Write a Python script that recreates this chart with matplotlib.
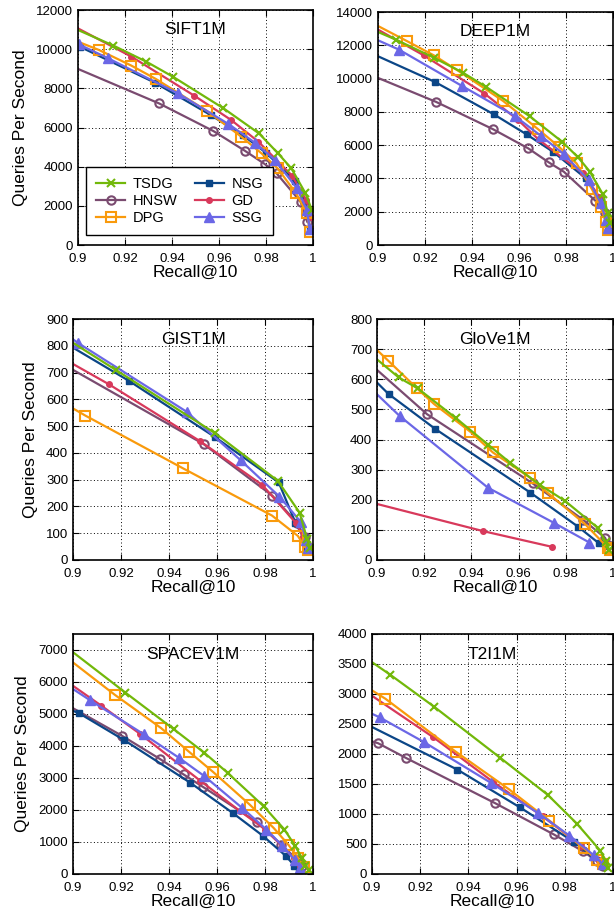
import matplotlib
matplotlib.use('Agg')
import matplotlib.pyplot as plt

plt.rcParams['font.family'] = ['Liberation Sans', 'DejaVu Sans']

METHODS = ['TSDG', 'HNSW', 'DPG', 'NSG', 'GD', 'SSG']

# (recall, qps) per method, first point sits on the left edge (no marker)
SIFT_TSDG = ([0.9, 0.9151, 0.9291, 0.9403, 0.9619, 0.9770, 0.9849, 0.9908, 0.9968, 0.9995],
             [10980, 10180, 9360, 8600, 6980, 5700, 4710, 3910, 2640, 1790])
SIFT_HNSW = ([0.9, 0.9345, 0.9576, 0.9709, 0.9794, 0.9845, 0.9947, 0.9975],
             [8990, 7230, 5820, 4820, 4140, 3660, 2210, 1200])
SIFT_DPG = ([0.9, 0.9089, 0.9227, 0.9331, 0.9547, 0.9695, 0.9781, 0.9849, 0.9928, 0.9974, 0.9988],
            [10380, 9960, 9160, 8480, 6860, 5530, 4680, 3920, 2640, 1620, 680])
SIFT_NSG = ([0.9, 0.9007, 0.9327, 0.9564, 0.9700, 0.9799, 0.9925, 0.9968, 0.9986],
            [10080, 10130, 8290, 6640, 5620, 4720, 3270, 2210, 800])
SIFT_GD = ([0.9, 0.9227, 0.9494, 0.9652, 0.9767, 0.9911, 0.9971, 0.9993],
           [11060, 9620, 7630, 6380, 5280, 3540, 2300, 1450])
SIFT_SSG = ([0.9, 0.9003, 0.9129, 0.9424, 0.9640, 0.9752, 0.9838, 0.9932, 0.9974, 0.9986],
            [10260, 10250, 9530, 7750, 6180, 5230, 4340, 2890, 1790, 800])

DEEP_TSDG = ([0.9, 0.9076, 0.9237, 0.9363, 0.9460, 0.9645, 0.9784, 0.9852, 0.9902, 0.9957, 0.9978, 0.9987],
             [12800, 12340, 11260, 10340, 9500, 7740, 6200, 5260, 4400, 3040, 1900, 1340])
DEEP_HNSW = ([0.9, 0.9247, 0.9489, 0.9640, 0.9727, 0.9791, 0.9925, 0.9964, 0.9978, 0.9983],
             [10040, 8600, 6960, 5800, 4960, 4400, 2660, 1900, 1400, 900])
DEEP_DPG = ([0.9, 0.9122, 0.9237, 0.9338, 0.9532, 0.9681, 0.9770, 0.9845, 0.9911, 0.9947, 0.9971, 0.9978],
            [13160, 12260, 11400, 10500, 8660, 6960, 5900, 4900, 3340, 2300, 1400, 900])
DEEP_NSG = ([0.9, 0.9242, 0.9492, 0.9633, 0.9745, 0.9885, 0.9947, 0.9974, 0.9981],
            [11340, 9800, 7860, 6640, 5600, 4000, 2700, 1700, 1000])
DEEP_GD = ([0.9, 0.9194, 0.9453, 0.9597, 0.9683, 0.9873, 0.9942, 0.9964],
           [12940, 11400, 9100, 7500, 6340, 4300, 2900, 1900])
DEEP_SSG = ([0.9, 0.9089, 0.9357, 0.9583, 0.9695, 0.9791, 0.9896, 0.9947, 0.9971, 0.9978],
            [12300, 11740, 9560, 7740, 6540, 5460, 3900, 2540, 1500, 1000])

GIST_TSDG = ([0.9, 0.9178, 0.9593, 0.9853, 0.9944, 0.9976, 0.9986],
             [811, 710, 473, 296, 177, 77, 44])
GIST_HNSW = ([0.9, 0.9544, 0.9831, 0.9933, 0.9965, 0.9979],
             [710, 433, 240, 139, 85, 50])
GIST_DPG = ([0.9, 0.9052, 0.9459, 0.9829, 0.9937, 0.9965, 0.9979],
            [566, 539, 342, 166, 90, 50, 37])
GIST_NSG = ([0.9, 0.9235, 0.9590, 0.9857, 0.9927, 0.9962, 0.9976],
            [793, 668, 460, 290, 139, 81, 44])
GIST_GD = ([0.9, 0.9150, 0.9529, 0.9789, 0.9930, 0.9958, 0.9975],
           [732, 656, 444, 280, 137, 87, 56])
GIST_SSG = ([0.9, 0.9020, 0.9473, 0.9698, 0.9860, 0.9948, 0.9972, 0.9979],
            [824, 811, 554, 373, 237, 143, 75, 44])

GLOVE_TSDG = ([0.9, 0.9092, 0.9172, 0.9336, 0.9472, 0.9564, 0.9691, 0.9797, 0.9935, 0.9970, 0.9984],
              [666, 606, 570, 470, 382, 323, 249, 196, 107, 59, 33])
GLOVE_HNSW = ([0.9, 0.9212, 0.9660, 0.9874, 0.9966, 0.9980],
              [631, 484, 254, 133, 74, 50])
GLOVE_DPG = ([0.9, 0.9047, 0.9169, 0.9243, 0.9395, 0.9491, 0.9649, 0.9726, 0.9882, 0.9980, 0.9987],
             [697, 662, 570, 517, 426, 357, 273, 221, 119, 39, 33])
GLOVE_NSG = ([0.9, 0.9049, 0.9247, 0.9649, 0.9853, 0.9941],
             [589, 551, 435, 224, 110, 55])
GLOVE_GD = ([0.9, 0.9449, 0.9740],
            [186, 96, 44])
GLOVE_SSG = ([0.9, 0.9096, 0.9470, 0.9748, 0.9900],
             [550, 478, 240, 124, 58])

SPACEV_TSDG = ([0.9, 0.9218, 0.9419, 0.9547, 0.9646, 0.9794, 0.9881, 0.9926, 0.9954, 0.9968, 0.9982],
               [6930, 5670, 4530, 3790, 3150, 2120, 1390, 870, 500, 240, 140])
SPACEV_HNSW = ([0.9, 0.9204, 0.9361, 0.9461, 0.9542, 0.9767, 0.9868, 0.9933, 0.9954],
               [5180, 4320, 3600, 3110, 2720, 1620, 920, 450, 240])
SPACEV_DPG = ([0.9, 0.9176, 0.9367, 0.9485, 0.9582, 0.9736, 0.9836, 0.9899, 0.9938, 0.9962],
              [6610, 5590, 4560, 3810, 3200, 2170, 1440, 900, 500, 220])
SPACEV_NSG = ([0.9, 0.9026, 0.9214, 0.9489, 0.9665, 0.9790, 0.9889, 0.9922, 0.9943],
              [5100, 5020, 4180, 2850, 1910, 1200, 550, 260, 120])
SPACEV_GD = ([0.9, 0.9118, 0.9281, 0.9531, 0.9697, 0.9801, 0.9871, 0.9919, 0.9947],
             [5880, 5260, 4370, 2910, 1960, 1390, 870, 500, 240])
SPACEV_SSG = ([0.9, 0.9069, 0.9294, 0.9440, 0.9547, 0.9704, 0.9806, 0.9871, 0.9926, 0.9947],
              [5780, 5440, 4370, 3640, 3060, 2070, 1390, 890, 430, 190])

T2I_TSDG = ([0.9, 0.9076, 0.9257, 0.9531, 0.9729, 0.9850, 0.9947, 0.9972, 0.9979],
            [3530, 3320, 2790, 1940, 1320, 840, 390, 210, 100])
T2I_HNSW = ([0.9, 0.9025, 0.9143, 0.9511, 0.9754, 0.9875, 0.9935, 0.9958],
            [2210, 2180, 1930, 1180, 660, 380, 210, 130])
T2I_DPG = ([0.9, 0.9056, 0.9347, 0.9569, 0.9736, 0.9879, 0.9935, 0.9958],
           [3060, 2920, 2040, 1410, 890, 430, 230, 160])
T2I_NSG = ([0.9, 0.9354, 0.9614, 0.9840, 0.9917, 0.9956],
           [2450, 1740, 1110, 530, 280, 140])
T2I_GD = ([0.9, 0.9254, 0.9504, 0.9708, 0.9868, 0.9942],
          [2970, 2280, 1530, 960, 470, 210])
T2I_SSG = ([0.9, 0.9032, 0.9215, 0.9493, 0.9688, 0.9819, 0.9921, 0.9958],
           [2670, 2610, 2200, 1520, 1020, 640, 310, 160])

# name, series, ymax, ytick step, axes rect in pixels (left, top, right, bottom)
PANELS = [
    ('SIFT1M', [SIFT_TSDG, SIFT_HNSW, SIFT_DPG, SIFT_NSG, SIFT_GD, SIFT_SSG], 12000, 2000, (78, 10, 313, 245)),
    ('DEEP1M', [DEEP_TSDG, DEEP_HNSW, DEEP_DPG, DEEP_NSG, DEEP_GD, DEEP_SSG], 14000, 2000, (378, 12, 613, 245)),
    ('GIST1M', [GIST_TSDG, GIST_HNSW, GIST_DPG, GIST_NSG, GIST_GD, GIST_SSG], 900, 100, (73, 319, 313, 560)),
    ('GloVe1M', [GLOVE_TSDG, GLOVE_HNSW, GLOVE_DPG, GLOVE_NSG, GLOVE_GD, GLOVE_SSG], 800, 100, (377, 319, 613, 560)),
    ('SPACEV1M', [SPACEV_TSDG, SPACEV_HNSW, SPACEV_DPG, SPACEV_NSG, SPACEV_GD, SPACEV_SSG], 7500, 1000, (73, 634, 313, 874)),
    ('T2I1M', [T2I_TSDG, T2I_HNSW, T2I_DPG, T2I_NSG, T2I_GD, T2I_SSG], 4000, 500, (372, 634, 613, 874)),
]

STYLES = {
    'TSDG': dict(color='#72b80a', marker='x', ms=6, mew=1.5, mfc='none'),
    'HNSW': dict(color='#7a4b70', marker='o', ms=6, mew=1.5, mfc='none'),
    'DPG': dict(color='#f99a0c', marker='s', ms=6.5, mew=1.5, mfc='none'),
    'NSG': dict(color='#0b4687', marker='s', ms=5, mew=1),
    'GD': dict(color='#d8395b', marker='o', ms=4, mew=1),
    'SSG': dict(color='#6b67e6', marker='^', ms=7, mew=1),
}
DRAW_ORDER = ['HNSW', 'NSG', 'GD', 'DPG', 'SSG', 'TSDG']

W, H = 614, 919
fig = plt.figure(figsize=(W / 100, H / 100), dpi=100)

for name, series, ymax, ystep, (l, t, r, b) in PANELS:
    ax = fig.add_axes([l / W, 1 - b / H, (r - l) / W, (b - t) / H])
    lines = {}
    for m in DRAW_ORDER:
        rec, qps = series[METHODS.index(m)]
        ln, = ax.plot(rec, qps, lw=1.6, markevery=slice(1, None), label=m, **STYLES[m])
        lines[m] = ln
    ax.set_xlim(0.9, 1.0)
    ax.set_ylim(0, ymax)
    ax.set_xticks([0.9, 0.92, 0.94, 0.96, 0.98, 1.0])
    ax.set_xticklabels(['0.9', '0.92', '0.94', '0.96', '0.98', '1'])
    ax.set_yticks(range(0, int((ymax // ystep) * ystep) + 1, ystep))
    ax.tick_params(direction='in', top=True, right=True, labelsize=9.5, length=4, width=0.8)
    ax.tick_params(axis='x', pad=6)
    ax.grid(True, color='black', linestyle=(0, (1, 2.5)), linewidth=0.7)
    for s in ax.spines.values():
        s.set_linewidth(1.2)
    ax.set_xlabel('Recall@10', fontsize=12.5, labelpad=0)
    if l < 300:
        ax.set_ylabel('Queries Per Second', fontsize=12.5, labelpad=6)
    ax.text(0.5, 0.915, name, transform=ax.transAxes, ha='center', va='center', fontsize=12.5)
    if name == 'SIFT1M':
        ax.legend([lines[m] for m in METHODS], METHODS, ncol=2, loc='lower left',
                  bbox_to_anchor=(0.034, 0.043), borderaxespad=0, fontsize=10.5, fancybox=False,
                  edgecolor='black', framealpha=1, handlelength=2.0, handletextpad=0.5,
                  columnspacing=1.2, borderpad=0.7, labelspacing=0.2)

fig.savefig('out.png', dpi=100)
